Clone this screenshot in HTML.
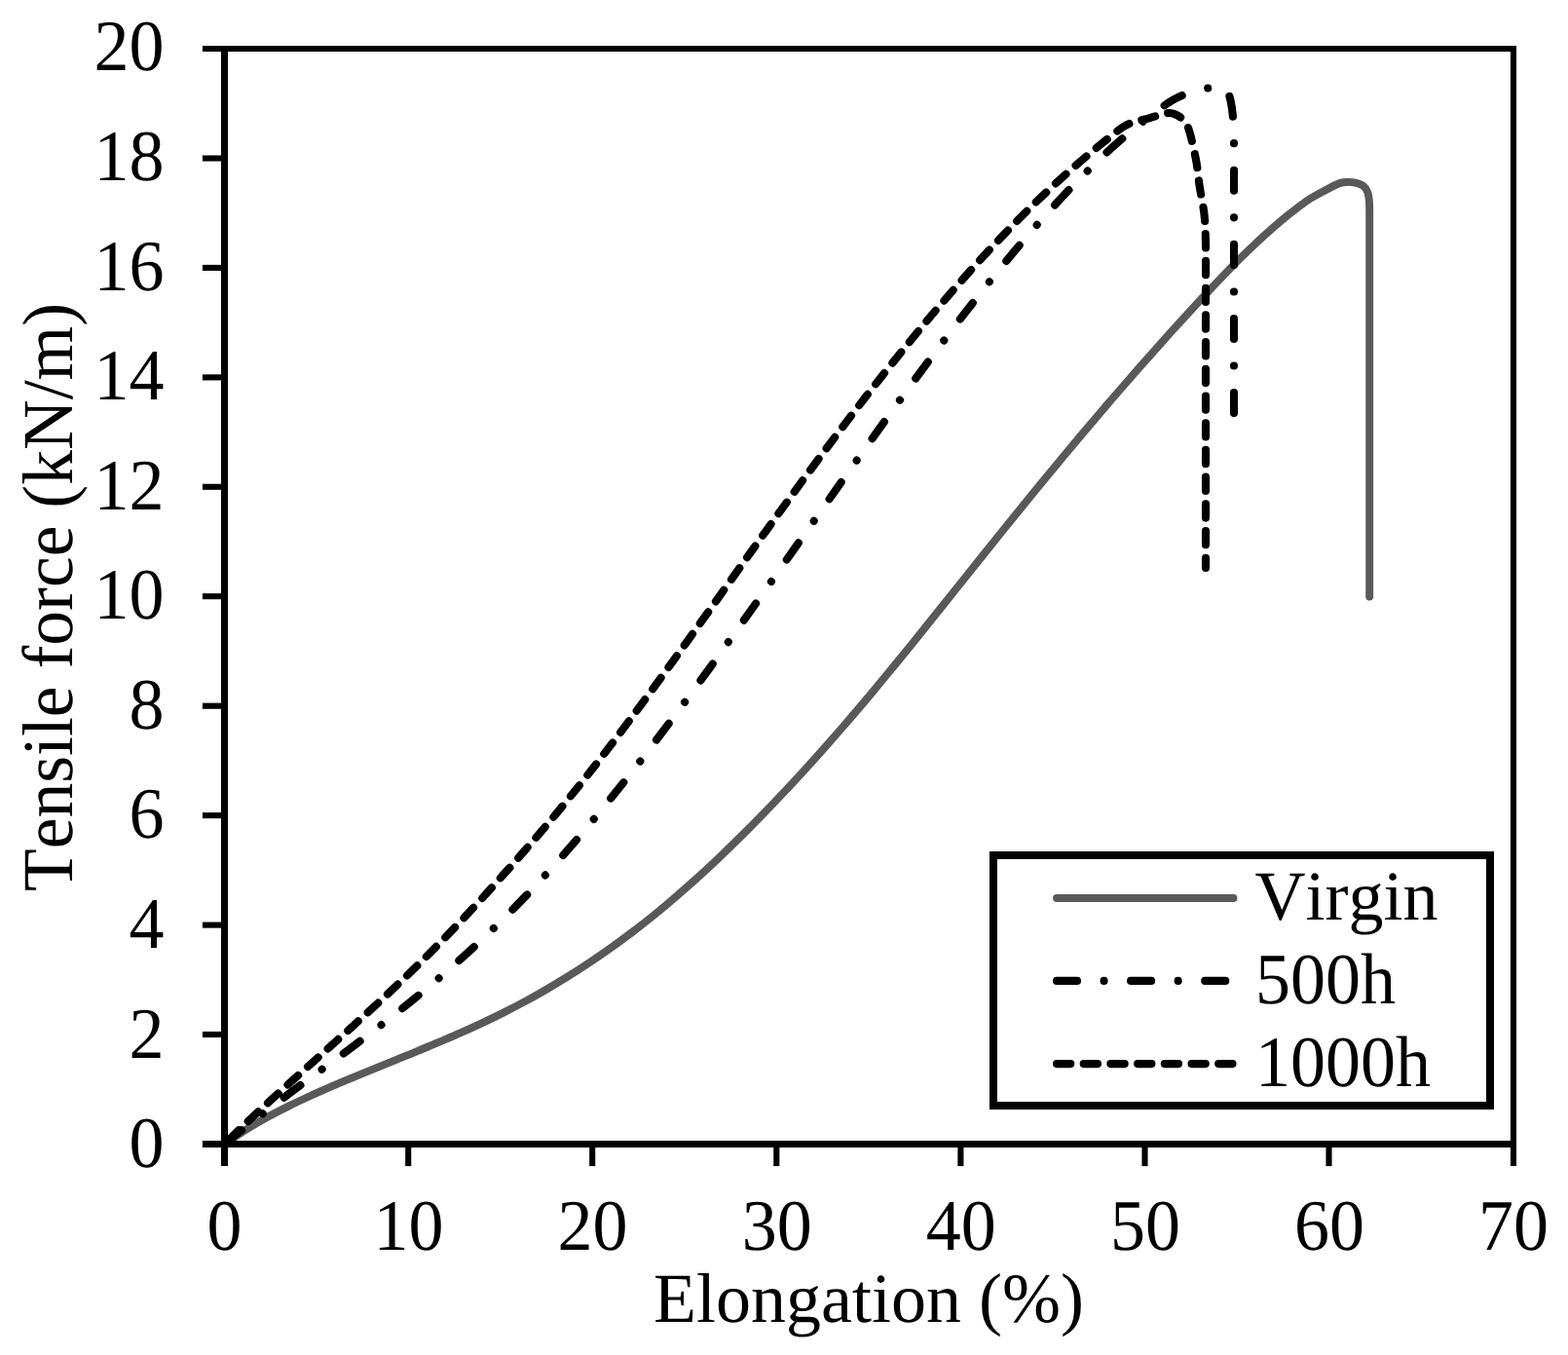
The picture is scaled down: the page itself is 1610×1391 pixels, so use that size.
<!DOCTYPE html>
<html lang="en"><head><meta charset="utf-8"><title>Tensile force vs elongation</title>
<style>html,body{margin:0;padding:0;background:#fff}body{width:1610px;height:1391px;overflow:hidden}svg{display:block}text{font-family:"Liberation Serif", "DejaVu Serif", serif;font-size:72px;fill:#000;stroke:#000;stroke-width:0.00px;stroke-linejoin:round;font-kerning:none;text-rendering:geometricPrecision}</style>
</head><body>
<svg width="1610" height="1391" viewBox="0 0 1610 1391">
<rect x="0" y="0" width="1610" height="1391" fill="#fff"/>
<path fill="none" stroke="#595959" stroke-width="7.9" stroke-linecap="round" stroke-linejoin="round" d="M230.5 1174.5 C234.2 1172.0 245.2 1164.4 252.6 1159.7 C259.9 1155.1 267.3 1150.9 274.6 1146.8 C282.0 1142.8 289.3 1139.0 296.7 1135.4 C304.0 1131.7 311.4 1128.3 318.7 1125.0 C326.1 1121.6 333.5 1118.4 340.8 1115.2 C348.2 1112.0 355.5 1108.9 362.9 1105.8 C370.2 1102.8 377.6 1099.8 384.9 1096.8 C392.3 1093.8 399.6 1090.8 407.0 1087.8 C414.3 1084.8 421.7 1081.9 429.1 1078.8 C436.4 1075.8 443.8 1072.8 451.1 1069.7 C458.5 1066.5 465.8 1063.4 473.2 1060.1 C480.5 1056.9 487.9 1053.6 495.2 1050.1 C502.6 1046.7 509.9 1043.1 517.3 1039.4 C524.7 1035.7 532.0 1031.9 539.4 1027.9 C546.7 1023.9 554.1 1019.8 561.4 1015.5 C568.8 1011.3 576.1 1006.8 583.5 1002.2 C590.8 997.7 598.2 992.9 605.5 988.0 C612.9 983.1 620.3 978.0 627.6 972.8 C635.0 967.5 642.3 962.1 649.7 956.5 C657.0 950.9 664.4 945.1 671.7 939.2 C679.1 933.2 686.4 927.1 693.8 920.7 C701.1 914.4 708.5 907.9 715.9 901.3 C723.2 894.6 730.6 887.8 737.9 880.8 C745.3 873.9 752.6 866.7 760.0 859.4 C767.3 852.2 774.7 844.7 782.0 837.2 C789.4 829.6 796.8 821.9 804.1 814.1 C811.5 806.3 818.8 798.4 826.2 790.3 C833.5 782.3 840.9 774.1 848.2 765.8 C855.6 757.5 862.9 749.1 870.3 740.6 C877.6 732.1 885.0 723.4 892.4 714.6 C899.7 705.8 907.1 696.9 914.4 688.0 C921.8 679.0 929.1 670.0 936.5 660.9 C943.8 651.8 951.2 642.6 958.5 633.5 C965.9 624.3 973.2 615.1 980.6 605.9 C988.0 596.7 995.3 587.5 1002.7 578.3 C1010.0 569.2 1017.4 560.0 1024.7 550.8 C1032.1 541.7 1039.4 532.5 1046.8 523.5 C1054.1 514.4 1061.5 505.4 1068.8 496.4 C1076.2 487.4 1083.6 478.5 1090.9 469.7 C1098.3 460.9 1105.6 452.1 1113.0 443.4 C1120.3 434.7 1127.7 426.1 1135.0 417.5 C1142.4 408.9 1149.7 400.4 1157.1 392.0 C1164.4 383.6 1171.8 375.2 1179.2 366.9 C1186.5 358.6 1193.9 350.4 1201.2 342.2 C1208.6 334.1 1215.9 326.0 1223.3 318.0 C1230.6 310.0 1238.0 302.1 1245.3 294.3 C1252.7 286.5 1260.4 278.3 1267.4 271.2 C1274.4 264.1 1280.9 258.0 1287.3 251.9 C1293.7 245.8 1299.8 240.2 1306.0 234.8 C1312.2 229.4 1318.4 224.1 1324.6 219.2 C1330.8 214.3 1337.1 209.3 1343.3 205.2 C1349.5 201.1 1356.7 197.5 1361.9 194.7 C1367.1 191.9 1371.1 189.8 1374.4 188.5 C1377.7 187.2 1379.1 187.2 1381.8 187.0 C1384.5 186.8 1387.6 186.7 1390.5 187.3 C1393.4 187.9 1397.0 188.8 1399.3 190.4 C1401.6 192.1 1403.1 194.5 1404.2 197.2 C1405.3 199.9 1405.6 202.8 1405.9 206.5 C1406.2 210.2 1406.2 215.3 1406.2 219.6 C1406.2 223.8 1406.2 225.3 1406.2 232.0 C1406.2 238.7 1406.2 255.3 1406.2 260.0 L1406.2 612.5"/>
<g fill="none" stroke="#000" stroke-linecap="butt">
<g stroke-width="6.1">
<line x1="207.9" y1="50.0" x2="1557.0" y2="50.0"/>
<line x1="207.9" y1="1174.5" x2="1557.0" y2="1174.5" stroke-width="7.0"/>
<line x1="207.9" y1="1062.0" x2="230.5" y2="1062.0"/>
<line x1="207.9" y1="949.6" x2="230.5" y2="949.6"/>
<line x1="207.9" y1="837.1" x2="230.5" y2="837.1"/>
<line x1="207.9" y1="724.7" x2="230.5" y2="724.7"/>
<line x1="207.9" y1="612.2" x2="230.5" y2="612.2"/>
<line x1="207.9" y1="499.8" x2="230.5" y2="499.8"/>
<line x1="207.9" y1="387.4" x2="230.5" y2="387.4"/>
<line x1="207.9" y1="274.9" x2="230.5" y2="274.9"/>
<line x1="207.9" y1="162.5" x2="230.5" y2="162.5"/>
</g>
<g stroke-width="7.0">
<line x1="230.5" y1="47.0" x2="230.5" y2="1197.1"/>
<line x1="1554.0" y1="47.0" x2="1554.0" y2="1197.1" stroke-width="6.1"/>
<line x1="419.2" y1="1174.5" x2="419.2" y2="1197.1" stroke-width="6.1"/>
<line x1="608.2" y1="1174.5" x2="608.2" y2="1197.1" stroke-width="6.1"/>
<line x1="797.3" y1="1174.5" x2="797.3" y2="1197.1" stroke-width="6.1"/>
<line x1="986.4" y1="1174.5" x2="986.4" y2="1197.1" stroke-width="6.1"/>
<line x1="1175.5" y1="1174.5" x2="1175.5" y2="1197.1" stroke-width="6.1"/>
<line x1="1364.5" y1="1174.5" x2="1364.5" y2="1197.1" stroke-width="6.1"/>
</g></g>
<g fill="none" stroke-linecap="round" stroke-linejoin="round">
<path stroke="#000" stroke-width="8.1" stroke-dasharray="21.00 27.55 0.01 27.55" stroke-dashoffset="-1.5" d="M230.5 1174.5 C234.3 1171.4 245.7 1162.1 253.1 1156.2 C260.6 1150.3 267.9 1144.7 275.2 1139.0 C282.6 1133.4 290.0 1127.9 297.4 1122.3 C304.8 1116.8 312.1 1111.4 319.5 1105.9 C326.9 1100.5 334.2 1095.1 341.6 1089.6 C349.0 1084.2 356.4 1078.7 363.8 1073.2 C371.1 1067.7 378.5 1062.1 385.9 1056.5 C393.2 1050.8 400.6 1045.1 408.0 1039.3 C415.4 1033.5 422.8 1027.5 430.1 1021.5 C437.5 1015.4 444.9 1009.2 452.2 1002.8 C459.6 996.5 467.0 990.0 474.4 983.3 C481.8 976.7 489.1 969.9 496.5 962.9 C503.9 955.9 511.2 948.8 518.6 941.4 C526.0 934.1 533.4 926.6 540.8 918.9 C548.1 911.1 555.5 903.2 562.9 895.1 C570.2 887.0 577.6 878.7 585.0 870.2 C592.4 861.7 599.8 853.0 607.1 844.1 C614.5 835.3 621.9 826.2 629.2 817.0 C636.6 807.9 644.0 798.5 651.4 789.1 C658.8 779.6 666.1 770.0 673.5 760.3 C680.9 750.6 688.2 740.8 695.6 730.8 C703.0 720.9 710.4 710.9 717.8 700.8 C725.1 690.7 732.5 680.5 739.9 670.2 C747.2 660.0 754.6 649.7 762.0 639.3 C769.4 628.9 776.8 618.5 784.1 608.1 C791.5 597.7 798.9 587.2 806.2 576.7 C813.6 566.2 821.0 555.7 828.4 545.2 C835.8 534.8 843.1 524.3 850.5 513.8 C857.9 503.3 865.2 492.9 872.6 482.5 C880.0 472.1 887.4 461.7 894.8 451.4 C902.1 441.0 909.5 430.8 916.9 420.6 C924.2 410.4 931.6 400.2 939.0 390.2 C946.4 380.2 953.8 370.2 961.1 360.3 C968.5 350.5 975.9 340.7 983.2 331.1 C990.6 321.5 998.0 311.9 1005.4 302.6 C1012.8 293.2 1020.1 284.0 1027.5 275.0 C1034.9 265.9 1042.2 257.0 1049.6 248.4 C1057.0 239.7 1064.4 231.2 1071.8 222.9 C1079.1 214.7 1086.5 206.6 1093.9 198.8 C1101.2 191.0 1108.6 183.4 1116.0 176.1 C1123.4 168.8 1130.8 161.7 1138.1 154.9 C1145.5 148.2 1152.9 141.7 1160.2 135.5 C1167.6 129.4 1175.0 123.5 1182.4 118.0 C1189.8 112.5 1197.9 106.3 1204.5 102.5 C1211.1 98.6 1216.0 97.0 1222.0 95.0 C1228.0 93.0 1235.3 91.5 1240.3 90.5 C1245.3 89.5 1248.8 88.7 1252.0 89.0 C1255.2 89.3 1257.6 90.2 1259.5 92.5 C1261.4 94.8 1262.4 98.3 1263.5 103.0 C1264.6 107.7 1265.4 113.0 1266.0 120.4 C1266.6 127.8 1266.8 134.3 1267.0 147.6 C1267.2 160.9 1267.0 191.3 1267.0 200.0 L1267.0 426.0"/>
<path stroke="#000" stroke-width="8.1" stroke-dasharray="14.30 13.40" stroke-dashoffset="-6.0" d="M230.5 1174.5 C234.2 1170.9 245.6 1159.8 253.0 1152.7 C260.4 1145.7 267.6 1139.0 274.9 1132.3 C282.2 1125.5 289.6 1118.9 296.9 1112.3 C304.2 1105.6 311.5 1099.0 318.9 1092.5 C326.2 1085.9 333.5 1079.3 340.8 1072.7 C348.1 1066.1 355.5 1059.5 362.8 1052.9 C370.1 1046.2 377.4 1039.5 384.8 1032.8 C392.1 1026.0 399.4 1019.2 406.7 1012.2 C414.0 1005.2 421.4 998.2 428.7 991.0 C436.0 983.8 443.3 976.5 450.6 969.0 C458.0 961.6 465.3 953.9 472.6 946.2 C479.9 938.5 487.2 930.6 494.6 922.6 C501.9 914.6 509.2 906.5 516.5 898.3 C523.9 890.2 531.2 881.9 538.5 873.5 C545.8 865.1 553.1 856.6 560.5 848.0 C567.8 839.4 575.1 830.6 582.4 821.6 C589.8 812.7 597.1 803.5 604.4 794.2 C611.7 785.0 619.0 775.5 626.4 765.9 C633.7 756.4 641.0 746.7 648.3 736.9 C655.6 727.1 663.0 717.2 670.3 707.2 C677.6 697.2 684.9 687.1 692.2 677.0 C699.6 666.9 706.9 656.6 714.2 646.4 C721.5 636.2 728.9 625.9 736.2 615.6 C743.5 605.4 750.8 595.0 758.1 584.8 C765.5 574.5 772.8 564.2 780.1 554.0 C787.4 543.8 794.8 533.6 802.1 523.5 C809.4 513.4 816.7 503.4 824.0 493.4 C831.4 483.5 838.7 473.6 846.0 463.8 C853.3 454.0 860.6 444.3 868.0 434.6 C875.3 425.0 882.6 415.5 889.9 406.1 C897.2 396.7 904.6 387.4 911.9 378.2 C919.2 369.0 926.5 359.9 933.9 351.0 C941.2 342.0 948.5 333.2 955.8 324.5 C963.1 315.8 970.5 307.3 977.8 298.9 C985.1 290.5 992.4 282.2 999.8 274.1 C1007.1 266.0 1014.4 258.0 1021.7 250.3 C1029.0 242.5 1036.4 234.9 1043.7 227.4 C1051.0 220.0 1058.3 212.7 1065.6 205.6 C1073.0 198.6 1080.3 191.7 1087.6 185.0 C1094.9 178.3 1102.2 171.8 1109.6 165.5 C1116.9 159.2 1124.2 153.1 1131.5 147.2 C1138.9 141.3 1147.6 134.0 1153.5 130.2 C1159.4 126.4 1162.8 125.9 1167.0 124.5 C1171.2 123.1 1175.0 122.7 1179.0 121.6 C1183.0 120.5 1187.3 118.9 1191.0 118.0 C1194.7 117.1 1198.2 115.8 1201.4 116.0 C1204.6 116.2 1207.3 117.3 1210.0 119.0 C1212.7 120.7 1215.5 123.0 1217.5 126.0 C1219.5 129.0 1220.1 130.8 1221.9 137.2 C1223.7 143.6 1226.4 155.4 1228.1 164.5 C1229.8 173.6 1230.4 182.8 1231.8 191.9 C1233.2 201.0 1235.4 210.2 1236.4 219.3 C1237.4 228.4 1237.6 232.8 1237.9 246.2 C1238.2 259.6 1238.0 291.0 1238.0 300.0 L1238.0 583.0"/>
</g>
<text transform="translate(168.5 1198.0) scale(1 1.033)" text-anchor="end">0</text>
<text transform="translate(168.5 1085.5) scale(1 1.033)" text-anchor="end">2</text>
<text transform="translate(168.5 972.9) scale(1 1.033)" text-anchor="end">4</text>
<text transform="translate(168.5 860.4) scale(1 1.033)" text-anchor="end">6</text>
<text transform="translate(168.5 747.9) scale(1 1.033)" text-anchor="end">8</text>
<text transform="translate(168.5 635.4) scale(1 1.033)" text-anchor="end">10</text>
<text transform="translate(168.5 522.8) scale(1 1.033)" text-anchor="end">12</text>
<text transform="translate(168.5 410.3) scale(1 1.033)" text-anchor="end">14</text>
<text transform="translate(168.5 297.8) scale(1 1.033)" text-anchor="end">16</text>
<text transform="translate(168.5 185.2) scale(1 1.033)" text-anchor="end">18</text>
<text transform="translate(168.5 71.9) scale(1 1.033)" text-anchor="end">20</text>
<text transform="translate(230.5 1283.2) scale(1 1.033)" text-anchor="middle">0</text>
<text transform="translate(419.6 1283.2) scale(1 1.033)" text-anchor="middle">10</text>
<text transform="translate(608.6 1283.2) scale(1 1.033)" text-anchor="middle">20</text>
<text transform="translate(797.7 1283.2) scale(1 1.033)" text-anchor="middle">30</text>
<text transform="translate(986.8 1283.2) scale(1 1.033)" text-anchor="middle">40</text>
<text transform="translate(1175.9 1283.2) scale(1 1.033)" text-anchor="middle">50</text>
<text transform="translate(1364.9 1283.2) scale(1 1.033)" text-anchor="middle">60</text>
<text transform="translate(1554.0 1283.2) scale(1 1.033)" text-anchor="middle">70</text>
<text transform="translate(892.0 1356.5)" text-anchor="middle">Elongation (%)</text>
<text transform="translate(74.0 613.0) rotate(-90) scale(0.994 1.022)" text-anchor="middle">Tensile force (kN/m)</text>
<rect x="1020.0" y="878.0" width="510.0" height="257.0" fill="#fff" stroke="#000" stroke-width="8.0"/>
<g fill="none" stroke-linecap="round">
<line stroke="#595959" stroke-width="7.9" x1="1085.0" y1="922.0" x2="1266.5" y2="922.0"/>
<line stroke="#000" stroke-width="8.1" stroke-dasharray="21.00 27.55 0.01 27.55" x1="1085.0" y1="1006.9" x2="1266.5" y2="1006.9"/>
<line stroke="#000" stroke-width="8.1" stroke-dasharray="14.30 13.40" x1="1085.0" y1="1092.1" x2="1266.5" y2="1092.1"/>
</g>
<text transform="translate(1288.5 944.0)">Virgin</text>
<text transform="translate(1289.0 1029.6) scale(1 1.033)">500h</text>
<text transform="translate(1289.0 1115.0) scale(1 1.033)">1000h</text>
</svg></body></html>
